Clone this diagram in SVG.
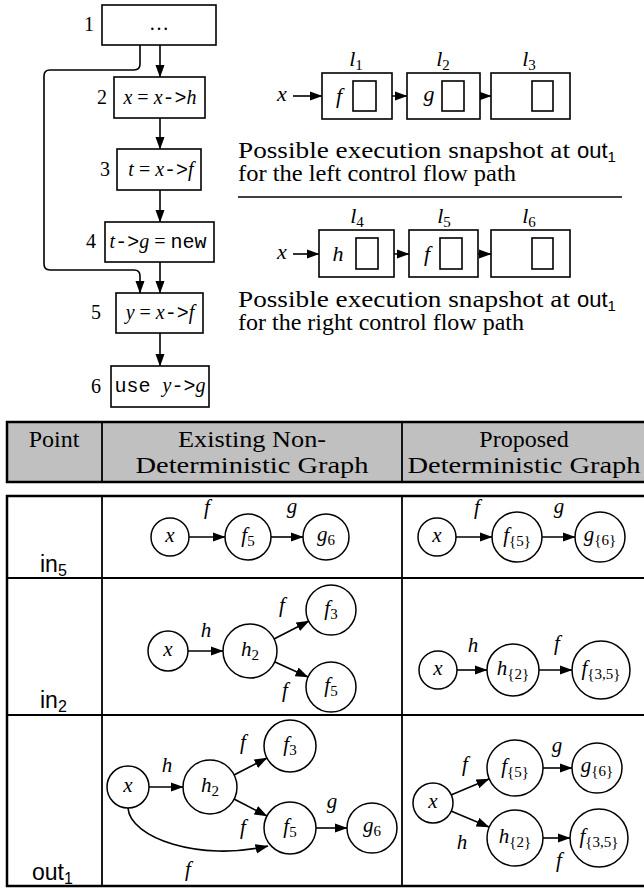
<svg xmlns="http://www.w3.org/2000/svg" width="644" height="888" viewBox="0 0 644 888">
<defs>
<style>
.t{font-family:"Liberation Serif",serif;fill:#000}
.i{font-style:italic}
.m{font-family:"Liberation Mono",monospace}
.s{font-family:"Liberation Sans",sans-serif;fill:#000}
.bx{fill:#fff;stroke:#000;stroke-width:1.6}
.ln{fill:none;stroke:#000;stroke-width:1.6}
.ar{fill:none;stroke:#000;stroke-width:1.6;marker-end:url(#ah)}
.c{fill:#fff;stroke:#000;stroke-width:1.5}
.f20{font-size:20px}
.f21{font-size:21px}
.f22{font-size:22px}
.f23{font-size:23px}
.f24{font-size:24px}
.sub{font-size:15px}
.hd{fill:#c0c0c0;stroke:#000;stroke-width:2.5}
.ob{fill:none;stroke:#000;stroke-width:2.5}
.ib{fill:none;stroke:#000;stroke-width:1.8}
</style>
<marker id="ah" markerUnits="userSpaceOnUse" markerWidth="13" markerHeight="10" refX="12.5" refY="5" orient="auto"><path d="M0,0.3 L13,5 L0,9.7 z" fill="#000"/></marker>
</defs>
<rect width="644" height="888" fill="#fff"/>

<!-- Flowchart -->
<g id="fc-edges">
<path class="ar" d="M160,45 V77"/>
<path class="ar" d="M160,118 V149"/>
<path class="ar" d="M160,190 V222"/>
<path class="ar" d="M160,262 V293"/>
<path class="ar" d="M160,333 V366"/>
<path class="ar" d="M140,45 V64 Q140,70 134,70 H50 Q44,70 44,76 V264 Q44,270 50,270 H134 Q140,270 140,276 V293"/>
</g>
<g id="fc1"><rect class="bx" x="102" y="5" width="114" height="40"/><text class="t f20" x="89" y="31" text-anchor="middle">1</text><text class="t f20" x="159" y="30" text-anchor="middle">…</text></g>
<g id="fc2"><rect class="bx" x="114" y="77" width="91" height="41"/><text class="t f20" x="102" y="104" text-anchor="middle">2</text><text class="t f20" x="160" y="104" text-anchor="middle"><tspan class="i">x</tspan> = <tspan class="i">x</tspan><tspan class="m">-&gt;</tspan><tspan class="i">h</tspan></text></g>
<g id="fc3"><rect class="bx" x="117" y="149" width="84" height="41"/><text class="t f20" x="105" y="176" text-anchor="middle">3</text><text class="t f20" x="161" y="176" text-anchor="middle"><tspan class="i">t</tspan> = <tspan class="i">x</tspan><tspan class="m">-&gt;</tspan><tspan class="i">f</tspan></text></g>
<g id="fc4"><rect class="bx" x="105" y="222" width="109" height="40"/><text class="t f20" x="91" y="248" text-anchor="middle">4</text><text class="t f20" x="158" y="248" text-anchor="middle"><tspan class="i">t</tspan><tspan class="m">-&gt;</tspan><tspan class="i">g</tspan> = <tspan class="m">new</tspan></text></g>
<g id="fc5"><rect class="bx" x="116" y="293" width="87" height="40"/><text class="t f20" x="96" y="319" text-anchor="middle">5</text><text class="t f20" x="160" y="319" text-anchor="middle"><tspan class="i">y</tspan> = <tspan class="i">x</tspan><tspan class="m">-&gt;</tspan><tspan class="i">f</tspan></text></g>
<g id="fc6"><rect class="bx" x="111" y="366" width="98" height="41"/><text class="t f20" x="96" y="393" text-anchor="middle">6</text><text class="t f20" x="160" y="392" text-anchor="middle"><tspan class="m">use </tspan><tspan class="i">y</tspan><tspan class="m">-&gt;</tspan><tspan class="i">g</tspan></text></g>

<!-- Snapshot 1 -->
<g id="snap1-edges">
<path class="ar" d="M293,96 H322"/>
<path class="ar" d="M373,96 H407"/>
<path class="ar" d="M461,96 H491"/>
</g>
<g id="snap1-x"><text class="t f22 i" x="282" y="101" text-anchor="middle">x</text></g>
<g id="l1"><rect class="bx" x="322" y="73" width="70" height="46"/><rect class="bx" x="353" y="81" width="23" height="30"/><text class="t f22 i" x="339" y="103" text-anchor="middle">f</text><text class="t f22" x="356" y="66" text-anchor="middle"><tspan class="i">l</tspan><tspan class="sub" dy="4">1</tspan></text></g>
<g id="l2"><rect class="bx" x="407" y="73" width="73" height="46"/><rect class="bx" x="442" y="81" width="22" height="30"/><text class="t f22 i" x="429" y="101" text-anchor="middle">g</text><text class="t f22" x="443" y="66" text-anchor="middle"><tspan class="i">l</tspan><tspan class="sub" dy="4">2</tspan></text></g>
<g id="l3"><rect class="bx" x="491" y="73" width="79" height="46"/><rect class="bx" x="532" y="81" width="21" height="30"/><text class="t f22" x="529" y="66" text-anchor="middle"><tspan class="i">l</tspan><tspan class="sub" dy="4">3</tspan></text></g>
<g id="cap1">
<text class="t f23" x="238" y="158" textLength="332" lengthAdjust="spacingAndGlyphs">Possible execution snapshot at</text>
<text class="s" font-size="22" x="577" y="158">out<tspan font-size="15" dy="4">1</tspan></text>
<text class="t f23" x="238" y="181" textLength="278" lengthAdjust="spacingAndGlyphs">for the left control flow path</text>
</g>
<line id="rule" class="ln" x1="238" y1="197" x2="622" y2="197"/>

<!-- Snapshot 2 -->
<g id="snap2-edges">
<path class="ar" d="M293,254 H319"/>
<path class="ar" d="M375,254 H409"/>
<path class="ar" d="M459,254 H491"/>
</g>
<g id="snap2-x"><text class="t f22 i" x="282" y="259" text-anchor="middle">x</text></g>
<g id="l4"><rect class="bx" x="319" y="230" width="75" height="47"/><rect class="bx" x="356" y="238" width="22" height="31"/><text class="t f22 i" x="338" y="261" text-anchor="middle">h</text><text class="t f22" x="357" y="223" text-anchor="middle"><tspan class="i">l</tspan><tspan class="sub" dy="4">4</tspan></text></g>
<g id="l5"><rect class="bx" x="409" y="230" width="69" height="47"/><rect class="bx" x="440" y="238" width="22" height="31"/><text class="t f22 i" x="427" y="261" text-anchor="middle">f</text><text class="t f22" x="444" y="223" text-anchor="middle"><tspan class="i">l</tspan><tspan class="sub" dy="4">5</tspan></text></g>
<g id="l6"><rect class="bx" x="491" y="230" width="79" height="47"/><rect class="bx" x="532" y="238" width="21" height="31"/><text class="t f22" x="529" y="223" text-anchor="middle"><tspan class="i">l</tspan><tspan class="sub" dy="4">6</tspan></text></g>
<g id="cap2">
<text class="t f23" x="238" y="307" textLength="332" lengthAdjust="spacingAndGlyphs">Possible execution snapshot at</text>
<text class="s" font-size="22" x="577" y="307">out<tspan font-size="15" dy="4">1</tspan></text>
<text class="t f23" x="238" y="330" textLength="286" lengthAdjust="spacingAndGlyphs">for the right control flow path</text>
</g>

<!-- Table header -->
<g id="table-header">
<rect class="hd" x="7" y="422" width="640" height="60"/>
<line class="ib" x1="102" y1="422" x2="102" y2="482"/>
<line class="ib" x1="402" y1="422" x2="402" y2="482"/>
<text class="t f24" x="54" y="447" text-anchor="middle">Point</text>
<text class="t f24" x="252" y="447" text-anchor="middle" textLength="148" lengthAdjust="spacingAndGlyphs">Existing Non-</text>
<text class="t f24" x="252" y="473" text-anchor="middle" textLength="233" lengthAdjust="spacingAndGlyphs">Deterministic Graph</text>
<text class="t f24" x="524" y="447" text-anchor="middle">Proposed</text>
<text class="t f24" x="524" y="473" text-anchor="middle" textLength="233" lengthAdjust="spacingAndGlyphs">Deterministic Graph</text>
</g>

<!-- Table body -->
<g id="table-body">
<rect class="ob" x="7" y="496" width="640" height="390"/>
<line class="ib" x1="102" y1="496" x2="102" y2="886"/>
<line class="ib" x1="402" y1="496" x2="402" y2="886"/>
<line class="ib" x1="7" y1="578" x2="647" y2="578"/>
<line class="ib" x1="7" y1="715" x2="647" y2="715"/>
<text class="s" font-size="23" x="40" y="572">in<tspan font-size="16" dy="4">5</tspan></text>
<text class="s" font-size="23" x="40" y="708">in<tspan font-size="16" dy="4">2</tspan></text>
<text class="s" font-size="23" x="32" y="880">out<tspan font-size="16" dy="4">1</tspan></text>
</g>

<!-- in5 existing -->
<g id="e5-edges" class="t f21 i">
<path class="ar" d="M189,537 H225"/>
<path class="ar" d="M271,537 H303"/>
<text x="207" y="514" text-anchor="middle">f</text>
<text x="292" y="513" text-anchor="middle">g</text>
</g>
<g id="e5-x"><circle class="c" cx="170" cy="537" r="19"/><text class="t f21 i" x="170" y="542" text-anchor="middle">x</text></g>
<g id="e5-f5"><circle class="c" cx="248" cy="537" r="23"/><text class="t f21" x="248" y="542" text-anchor="middle"><tspan class="i">f</tspan><tspan class="sub" dy="4">5</tspan></text></g>
<g id="e5-g6"><circle class="c" cx="326" cy="537" r="23"/><text class="t f21" x="326" y="541" text-anchor="middle"><tspan class="i">g</tspan><tspan class="sub" dy="4">6</tspan></text></g>

<!-- in5 proposed -->
<g id="p5-edges" class="t f21 i">
<path class="ar" d="M456,537 H492"/>
<path class="ar" d="M542,537 H575"/>
<text x="477" y="514" text-anchor="middle">f</text>
<text x="559" y="513" text-anchor="middle">g</text>
</g>
<g id="p5-x"><circle class="c" cx="437" cy="537" r="19"/><text class="t f21 i" x="437" y="542" text-anchor="middle">x</text></g>
<g id="p5-f5"><circle class="c" cx="517" cy="537" r="25"/><text class="t f21" x="517" y="542" text-anchor="middle"><tspan class="i">f</tspan><tspan class="sub" dy="4">{5}</tspan></text></g>
<g id="p5-g6"><circle class="c" cx="600" cy="537" r="25"/><text class="t f21" x="600" y="541" text-anchor="middle"><tspan class="i">g</tspan><tspan class="sub" dy="4">{6}</tspan></text></g>

<!-- in2 existing -->
<g id="e2-edges" class="t f21 i">
<path class="ar" d="M188,651 H223"/>
<path class="ar" d="M274,639 L309,621"/>
<path class="ar" d="M275,662 L308,677"/>
<text x="206" y="637" text-anchor="middle">h</text>
<text x="282" y="612" text-anchor="middle">f</text>
<text x="285" y="697" text-anchor="middle">f</text>
</g>
<g id="e2-x"><circle class="c" cx="168" cy="651" r="20"/><text class="t f21 i" x="168" y="656" text-anchor="middle">x</text></g>
<g id="e2-h2"><circle class="c" cx="250" cy="651" r="27"/><text class="t f21" x="250" y="656" text-anchor="middle"><tspan class="i">h</tspan><tspan class="sub" dy="4">2</tspan></text></g>
<g id="e2-f3"><circle class="c" cx="331" cy="610" r="25"/><text class="t f21" x="331" y="615" text-anchor="middle"><tspan class="i">f</tspan><tspan class="sub" dy="4">3</tspan></text></g>
<g id="e2-f5"><circle class="c" cx="331" cy="687" r="25"/><text class="t f21" x="331" y="692" text-anchor="middle"><tspan class="i">f</tspan><tspan class="sub" dy="4">5</tspan></text></g>

<!-- in2 proposed -->
<g id="p2-edges" class="t f21 i">
<path class="ar" d="M457,670 H487"/>
<path class="ar" d="M539,670 H572"/>
<text x="473" y="652" text-anchor="middle">h</text>
<text x="557" y="650" text-anchor="middle">f</text>
</g>
<g id="p2-x"><circle class="c" cx="438" cy="670" r="19"/><text class="t f21 i" x="438" y="675" text-anchor="middle">x</text></g>
<g id="p2-h2"><circle class="c" cx="513" cy="670" r="26"/><text class="t f21" x="513" y="675" text-anchor="middle"><tspan class="i">h</tspan><tspan class="sub" dy="4">{2}</tspan></text></g>
<g id="p2-f35"><circle class="c" cx="601" cy="670" r="29"/><text class="t f21" x="601" y="675" text-anchor="middle"><tspan class="i">f</tspan><tspan class="sub" dy="4">{3,5}</tspan></text></g>

<!-- out1 existing -->
<g id="e1-edges" class="t f21 i">
<path class="ar" d="M149,787 H183"/>
<path class="ar" d="M234,775 L267,758"/>
<path class="ar" d="M234,799 L267,816"/>
<path class="ar" d="M316,828 H347"/>
<path class="ar" d="M128,808 C130,838 200,862 268,846"/>
<text x="167" y="772" text-anchor="middle">h</text>
<text x="243" y="749" text-anchor="middle">f</text>
<text x="243" y="834" text-anchor="middle">f</text>
<text x="332" y="808" text-anchor="middle">g</text>
<text x="188" y="876" text-anchor="middle">f</text>
</g>
<g id="e1-x"><circle class="c" cx="128" cy="787" r="21"/><text class="t f21 i" x="128" y="792" text-anchor="middle">x</text></g>
<g id="e1-h2"><circle class="c" cx="210" cy="787" r="27"/><text class="t f21" x="210" y="792" text-anchor="middle"><tspan class="i">h</tspan><tspan class="sub" dy="4">2</tspan></text></g>
<g id="e1-f3"><circle class="c" cx="290" cy="746" r="26"/><text class="t f21" x="290" y="751" text-anchor="middle"><tspan class="i">f</tspan><tspan class="sub" dy="4">3</tspan></text></g>
<g id="e1-f5"><circle class="c" cx="290" cy="828" r="26"/><text class="t f21" x="290" y="833" text-anchor="middle"><tspan class="i">f</tspan><tspan class="sub" dy="4">5</tspan></text></g>
<g id="e1-g6"><circle class="c" cx="372" cy="828" r="25"/><text class="t f21" x="372" y="832" text-anchor="middle"><tspan class="i">g</tspan><tspan class="sub" dy="4">6</tspan></text></g>

<!-- out1 proposed -->
<g id="p1-edges" class="t f21 i">
<path class="ar" d="M451,795 L489,779"/>
<path class="ar" d="M451,811 L489,827"/>
<path class="ar" d="M543,768 H572"/>
<path class="ar" d="M543,838 H570"/>
<text x="465" y="771" text-anchor="middle">f</text>
<text x="557" y="752" text-anchor="middle">g</text>
<text x="462" y="849" text-anchor="middle">h</text>
<text x="559" y="867" text-anchor="middle">f</text>
</g>
<g id="p1-x"><circle class="c" cx="433" cy="803" r="20"/><text class="t f21 i" x="433" y="808" text-anchor="middle">x</text></g>
<g id="p1-f5"><circle class="c" cx="515" cy="768" r="28"/><text class="t f21" x="515" y="773" text-anchor="middle"><tspan class="i">f</tspan><tspan class="sub" dy="4">{5}</tspan></text></g>
<g id="p1-g6"><circle class="c" cx="597" cy="768" r="25"/><text class="t f21" x="597" y="772" text-anchor="middle"><tspan class="i">g</tspan><tspan class="sub" dy="4">{6}</tspan></text></g>
<g id="p1-h2"><circle class="c" cx="515" cy="838" r="28"/><text class="t f21" x="515" y="843" text-anchor="middle"><tspan class="i">h</tspan><tspan class="sub" dy="4">{2}</tspan></text></g>
<g id="p1-f35"><circle class="c" cx="599" cy="838" r="29"/><text class="t f21" x="599" y="843" text-anchor="middle"><tspan class="i">f</tspan><tspan class="sub" dy="4">{3,5}</tspan></text></g>
</svg>
